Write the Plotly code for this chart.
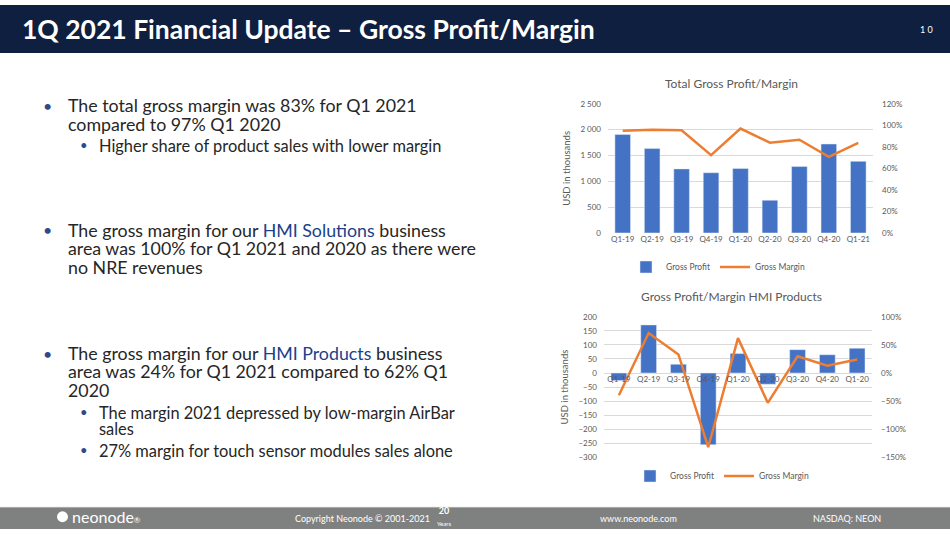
import plotly.graph_objects as go

# --- data ---
quarters_total = ["Q1-19", "Q2-19", "Q3-19", "Q4-19", "Q1-20", "Q2-20", "Q3-20", "Q4-20", "Q1-21"]
profit_total = [1905, 1633, 1240, 1165, 1247, 633, 1285, 1722, 1386]
margin_total = [0.95, 0.96, 0.954, 0.723, 0.97, 0.839, 0.866, 0.708, 0.836]

# the slide really labels the last HMI quarter "Q1-20" twice
quarters_hmi = ["Q1-19", "Q2-19", "Q3-19", "Q4-19", "Q1-20", "Q2-20", "Q3-20", "Q4-20", "Q1-20"]
profit_hmi = [-27, 171, 31, -255, 69, -40, 83, 65, 88]
margin_hmi = [-0.395, 0.71, 0.33, -1.32, 0.62, -0.53, 0.296, 0.128, 0.24]

W, H = 950, 534
BLUE = "#4472C4"
ORANGE = "#ED7D31"
GRID = "#D9D9D9"
AXTXT = "#595959"
NAVY = "#0F1F40"
HILITE = "#203F8A"
FONT = "Lato"


def px(x):
    return x / W


def py(y):
    return 1 - y / H


fig = go.Figure()

# top chart
fig.add_trace(go.Bar(x=quarters_total, y=profit_total, name="Gross Profit", marker_color=BLUE,
                     xaxis="x", yaxis="y", legend="legend"))
fig.add_trace(go.Scatter(x=quarters_total, y=margin_total, name="Gross Margin", mode="lines",
                         line=dict(color=ORANGE, width=2.5), xaxis="x", yaxis="y2", legend="legend"))

# bottom chart (numeric x because of the duplicated label)
hmi_x = list(range(len(quarters_hmi)))
fig.add_trace(go.Bar(x=hmi_x, y=profit_hmi, name="Gross Profit", marker_color=BLUE,
                     xaxis="x2", yaxis="y3", legend="legend2"))
fig.add_trace(go.Scatter(x=hmi_x, y=margin_hmi, name="Gross Margin", mode="lines",
                         line=dict(color=ORANGE, width=2.5), xaxis="x2", yaxis="y4", legend="legend2"))

tick_font = dict(family=FONT, size=8, color=AXTXT)
top_dom = [py(232.3), py(100.7)]
bot_dom = [py(461), py(317.7)]
bot_range = [-300, 200]
zero_pos = bot_dom[0] + (0 - bot_range[0]) / (bot_range[1] - bot_range[0]) * (bot_dom[1] - bot_dom[0])

fig.update_layout(
    width=W, height=H,
    margin=dict(l=0, r=0, t=0, b=0),
    paper_bgcolor="white", plot_bgcolor="rgba(0,0,0,0)",
    separators=". ",
    bargap=0.47,
    font=dict(family=FONT, color="#262626"),
    xaxis=dict(domain=[px(608), px(873)], anchor="y", tickfont=tick_font, showgrid=False,
               ticks="", showline=False, fixedrange=True),
    yaxis=dict(domain=top_dom, range=[0, 2500], dtick=500, tickformat=",d", tickfont=tick_font,
               gridcolor=GRID, zeroline=False, showline=False, ticks="", ticklabelstandoff=6,
               title=dict(text="USD in thousands", font=dict(family=FONT, size=9.5, color=AXTXT), standoff=8)),
    yaxis2=dict(domain=top_dom, overlaying="y", side="right", anchor="x", range=[0, 1.2], dtick=0.2,
                tickformat=".0%", tickfont=tick_font, showgrid=False, zeroline=False, ticks="",
                ticklabelstandoff=8),
    xaxis2=dict(domain=[px(604), px(872)], anchor="free", position=zero_pos, tickmode="array",
                tickvals=hmi_x, ticktext=quarters_hmi, range=[-0.5, len(hmi_x) - 0.5],
                tickfont=tick_font, showgrid=False, ticks="", showline=False, zeroline=False),
    yaxis3=dict(domain=bot_dom, anchor="x2", range=bot_range, dtick=50, tickfont=tick_font,
                gridcolor=GRID, zeroline=False, showline=False, ticks="", ticklabelstandoff=6,
                title=dict(text="USD in thousands", font=dict(family=FONT, size=9.5, color=AXTXT), standoff=8)),
    yaxis4=dict(domain=bot_dom, overlaying="y3", side="right", anchor="x2", range=[-1.5, 1.0], dtick=0.5,
                tickformat=".0%", tickfont=tick_font, showgrid=False, zeroline=False, ticks="",
                ticklabelstandoff=8),
    legend=dict(orientation="h", x=px(718), xanchor="center", y=py(267), yanchor="middle",
                font=dict(family=FONT, size=8.5, color=AXTXT), bgcolor="rgba(0,0,0,0)", itemwidth=30),
    legend2=dict(orientation="h", x=px(722), xanchor="center", y=py(480), yanchor="middle",
                 font=dict(family=FONT, size=8.5, color=AXTXT), bgcolor="rgba(0,0,0,0)", itemwidth=30),
    showlegend=True,
)

shapes = [
    dict(type="rect", xref="paper", yref="paper", x0=0, x1=1, y0=py(49), y1=1,
         fillcolor=NAVY, line_width=0, layer="below"),
    dict(type="rect", xref="paper", yref="paper", x0=0, x1=1, y0=0, y1=py(512),
         fillcolor="#7F8181", line_width=0, layer="below"),
    dict(type="line", xref="paper", yref="paper", x0=0, x1=1, y0=py(512), y1=py(512),
         line=dict(color="#A6A8A8", width=1)),
    # neonode logo mark
    dict(type="circle", xref="paper", yref="paper", x0=px(57), x1=px(68), y0=py(527), y1=py(516),
         fillcolor="white", line_width=0),
]
fig.update_layout(shapes=shapes)

ann = []


def text(x, y, s, size, color="#262626", anchor="left", family=FONT):
    ann.append(dict(x=px(x), y=py(y), xref="paper", yref="paper", text=s, showarrow=False,
                    xanchor=anchor, yanchor="middle", font=dict(family=family, size=size, color=color)))


# header
text(20, 24, "<b>1Q 2021 Financial Update – Gross Profit/Margin</b>", 26.5, color="white")
text(926, 25, "1 0", 9, color="white", anchor="center")

# chart titles
text(731, 80, "Total Gross Profit/Margin", 12, color=AXTXT, anchor="center")
text(731, 297, "Gross Profit/Margin HMI Products", 12, color=AXTXT, anchor="center")

# bullets
bullet = "<span style='color:#2F4A8C'>•</span>"
main_lines = [
    (102, True, "The total gross margin was 83% for Q1 2021"),
    (121, False, "compared to 97% Q1 2020"),
    (229, True, f"The gross margin for our <span style='color:{HILITE}'>HMI Solutions</span> business"),
    (248, False, "area was 100% for Q1 2021 and 2020 as there were"),
    (267, False, "no NRE revenues"),
    (355, True, f"The gross margin for our <span style='color:{HILITE}'>HMI Products</span> business"),
    (373, False, "area was 24% for Q1 2021 compared to 62% Q1"),
    (392, False, "2020"),
]
for y, dot, s in main_lines:
    if dot:
        text(41, y, bullet, 16)
    text(66, y, s, 17.8)

sub_lines = [
    (143, True, "Higher share of product sales with lower margin"),
    (415, True, "The margin 2021 depressed by low-margin AirBar"),
    (432, False, "sales"),
    (454, True, "27% margin for touch sensor modules sales alone"),
]
for y, dot, s in sub_lines:
    if dot:
        text(78, y, bullet, 13)
    text(97, y, s, 16.4)

# footer
text(70, 521, "neonode<span style='font-size:8px'>®</span>", 16, color="white")
text(293, 523, "Copyright Neonode © 2001-2021", 9, color="white")
text(444, 521, "<b>20</b><br><span style='font-size:6px'>Years</span>", 9, color="white", anchor="center")
text(638, 523, "www.neonode.com", 9, color="white", anchor="center")
text(847, 523, "NASDAQ: NEON", 9, color="white", anchor="center")

fig.update_layout(annotations=ann)

fig.write_html("out.html", config={"displayModeBar": False},
               post_script="document.body.style.margin='0';document.body.style.overflow='hidden';")
